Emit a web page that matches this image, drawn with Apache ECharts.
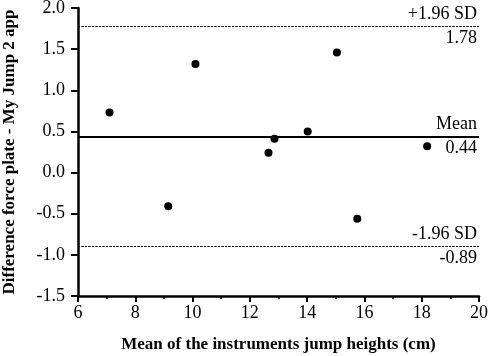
<!DOCTYPE html>
<html>
<head>
<meta charset="utf-8">
<script src="https://cdn.jsdelivr.net/npm/echarts@6/dist/echarts.min.js"></script>
<style>
  html, body { margin: 0; padding: 0; background: #fff; }
  #chart { width: 489px; height: 356px; }
</style>
</head>
<body>
<div id="chart"></div>
<script>
// mean of the two instruments (cm) and their difference
const meanHeights = [7.1, 9.15, 10.1, 12.65, 12.86, 14.02, 15.04, 15.75, 18.19]
const differences = [0.73, -0.41, 1.32, 0.24, 0.41, 0.50, 1.46, -0.56, 0.32]

const biasMean = 0.44
const upperLoA = 1.78
const lowerLoA = -0.89

const xTicks = [6, 8, 10, 12, 14, 16, 18, 20]
const yTicks = [-1.5, -1.0, -0.5, 0.0, 0.5, 1.0, 1.5, 2.0]

const points = meanHeights.map((x, i) => [x, differences[i]])

const font = 'Liberation Serif'

const myChart = echarts.init(document.getElementById('chart'))

const lineLabel = (text, pos) => ({
  show: true,
  position: pos,
  formatter: text,
  color: '#000',
  fontFamily: font,
  fontSize: 18,
  distance: [2, 3]
})

const refLine = (value, top, bottom, style) => [
  { yAxis: value, lineStyle: style, label: lineLabel(top, 'insideEndTop') },
  { yAxis: value, lineStyle: style, label: lineLabel(bottom, 'insideEndBottom') }
]

const dashed = { color: '#000', width: 1, type: [2, 1.5] }
const solid = { color: '#000', width: 2, type: 'solid' }

const option = {
  backgroundColor: '#fff',
  animation: false,
  grid: {
    left: 78,
    right: 10,
    top: 8,
    bottom: 60,
    containLabel: false,
    outerBoundsMode: 'none'
  },
  xAxis: {
    type: 'value',
    min: xTicks[0],
    max: xTicks[xTicks.length - 1],
    interval: 2,
    name: 'Mean of the instruments jump heights (cm)',
    nameLocation: 'middle',
    nameGap: 40,
    nameTextStyle: { color: '#000', fontFamily: font, fontSize: 17, fontWeight: 'bold' },
    axisLine: { show: true, onZero: false, lineStyle: { color: '#000', width: 2.5 } },
    axisTick: { show: true, length: 6, lineStyle: { color: '#000', width: 2 } },
    minorTick: { show: true, splitNumber: 2, length: 3, lineStyle: { color: '#000', width: 1.5 } },
    axisLabel: { color: '#000', fontFamily: font, fontSize: 18, margin: 8 },
    splitLine: { show: false }
  },
  yAxis: {
    type: 'value',
    min: yTicks[0],
    max: yTicks[yTicks.length - 1],
    interval: 0.5,
    name: 'Difference force plate - My Jump 2 app',
    nameLocation: 'middle',
    nameGap: 60,
    nameTextStyle: { color: '#000', fontFamily: font, fontSize: 17, fontWeight: 'bold' },
    axisLine: { show: true, onZero: false, lineStyle: { color: '#000', width: 2.5 } },
    axisTick: { show: true, length: 7, lineStyle: { color: '#000', width: 2 } },
    axisLabel: {
      color: '#000',
      fontFamily: font,
      fontSize: 18,
      margin: 13,
      formatter: v => v.toFixed(1)
    },
    splitLine: { show: false }
  },
  series: [
    {
      type: 'scatter',
      data: points,
      symbol: 'circle',
      symbolSize: 8,
      itemStyle: { color: '#000', opacity: 1 },
      markLine: {
        silent: true,
        symbol: 'none',
        data: [
          ...refLine(upperLoA, '+1.96 SD', String(upperLoA), dashed),
          ...refLine(biasMean, 'Mean', String(biasMean), solid),
          ...refLine(lowerLoA, '-1.96 SD', String(lowerLoA), dashed)
        ]
      }
    }
  ]
}

myChart.setOption(option)
</script>
</body>
</html>
